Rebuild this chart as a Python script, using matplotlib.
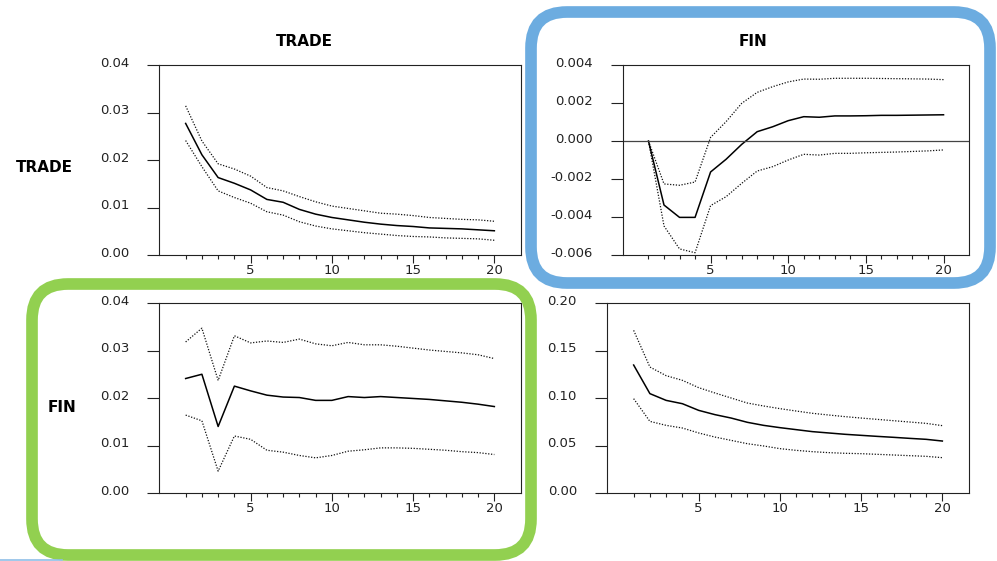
import matplotlib
matplotlib.use('Agg')
import matplotlib.pyplot as plt
from matplotlib.patches import FancyBboxPatch
from matplotlib.lines import Line2D
from matplotlib.ticker import FixedLocator, FormatStrFormatter
from matplotlib.transforms import Affine2D, ScaledTranslation

plt.rcParams['font.family'] = ['DejaVu Sans']
plt.rcParams['axes.unicode_minus'] = False

W, H = 997, 561

horizon = [1, 2, 3, 4, 5, 6, 7, 8, 9, 10, 11, 12, 13, 14, 15, 16, 17, 18, 19, 20]
xMajor = [5, 10, 15, 20]

# TRADE -> TRADE (top left)
tradeTradeMid = [0.0277, 0.0211, 0.0163, 0.0151, 0.0137, 0.0117, 0.0111, 0.0096, 0.0086, 0.0079,
                 0.0074, 0.0069, 0.0065, 0.0062, 0.0060, 0.0057, 0.0056, 0.0055, 0.0053, 0.0051]
tradeTradeUp = [0.0314, 0.0240, 0.0192, 0.0181, 0.0166, 0.0142, 0.0135, 0.0123, 0.0112, 0.0103,
                0.0098, 0.0093, 0.0088, 0.0086, 0.0083, 0.0079, 0.0077, 0.0075, 0.0074, 0.0071]
tradeTradeLow = [0.0241, 0.0186, 0.0135, 0.0121, 0.0109, 0.0091, 0.0084, 0.0070, 0.0061, 0.0055,
                 0.0051, 0.0047, 0.0044, 0.0041, 0.0039, 0.0038, 0.0036, 0.0035, 0.0034, 0.0031]

# TRADE row, FIN column (top right)
tradeFinMid = [0.0, -0.00337, -0.00402, -0.00402, -0.00163, -0.00096, -0.00018, 0.00049, 0.00075, 0.00107,
               0.00128, 0.00125, 0.00132, 0.00132, 0.00133, 0.00135, 0.00135, 0.00136, 0.00137, 0.00138]
tradeFinUp = [0.0, -0.00226, -0.00233, -0.00216, 0.00019, 0.00102, 0.00198, 0.00256, 0.00286, 0.00311,
              0.00326, 0.00325, 0.00330, 0.00330, 0.00330, 0.00329, 0.00328, 0.00327, 0.00326, 0.00323]
tradeFinLow = [0.0, -0.00447, -0.00568, -0.00588, -0.00340, -0.00293, -0.00223, -0.00158, -0.00135, -0.00100,
               -0.00070, -0.00074, -0.00065, -0.00065, -0.00062, -0.00060, -0.00058, -0.00055, -0.00052, -0.00047]

# FIN row, TRADE column (bottom left)
finTradeMid = [0.0241, 0.0250, 0.0140, 0.0225, 0.0215, 0.0206, 0.0202, 0.0201, 0.0195, 0.0195,
               0.0203, 0.0201, 0.0203, 0.0201, 0.0199, 0.0197, 0.0194, 0.0191, 0.0187, 0.0182]
finTradeUp = [0.0318, 0.0347, 0.0237, 0.0331, 0.0316, 0.0320, 0.0317, 0.0324, 0.0314, 0.0310,
              0.0317, 0.0312, 0.0312, 0.0309, 0.0305, 0.0301, 0.0298, 0.0295, 0.0291, 0.0283]
finTradeLow = [0.0164, 0.0152, 0.0046, 0.0120, 0.0113, 0.0090, 0.0086, 0.0079, 0.0074, 0.0079,
               0.0088, 0.0091, 0.0095, 0.0095, 0.0094, 0.0092, 0.0090, 0.0087, 0.0085, 0.0081]

# FIN -> FIN (bottom right)
finFinMid = [0.1347, 0.1046, 0.0975, 0.0940, 0.0870, 0.0825, 0.0789, 0.0744, 0.0712, 0.0688,
             0.0667, 0.0646, 0.0632, 0.0618, 0.0607, 0.0596, 0.0586, 0.0575, 0.0565, 0.0547]
finFinUp = [0.1712, 0.1326, 0.1235, 0.1186, 0.1109, 0.1053, 0.1000, 0.0947, 0.0916, 0.0888,
            0.0863, 0.0839, 0.0821, 0.0804, 0.0789, 0.0775, 0.0761, 0.0747, 0.0733, 0.0709]
finFinLow = [0.0993, 0.0754, 0.0712, 0.0684, 0.0632, 0.0589, 0.0554, 0.0519, 0.0495, 0.0467,
             0.0449, 0.0435, 0.0425, 0.0418, 0.0414, 0.0407, 0.0400, 0.0393, 0.0386, 0.0372]

ticksSmall = [0.00, 0.01, 0.02, 0.03, 0.04]
ticksFin = [-0.006, -0.004, -0.002, 0.000, 0.002, 0.004]
ticksBig = [0.00, 0.05, 0.10, 0.15, 0.20]

fig = plt.figure(figsize=(W / 100, H / 100), dpi=100)

# top-left pixel coordinates -> display coordinates
pixelTransform = Affine2D().scale(1, -1).translate(0, H)


def pixelBox(left, top, right, bottom):
    return [left / W, 1 - bottom / H, (right - left) / W, (bottom - top) / H]


def drawPanel(box, mid, up, low, yTicks, fmt, zeroLine=False):
    ax = fig.add_axes(pixelBox(*box))
    ax.plot(horizon, up, color='#111111', lw=0.9, linestyle=(0, (1, 1.3)))
    ax.plot(horizon, low, color='#111111', lw=0.9, linestyle=(0, (1, 1.3)))
    ax.plot(horizon, mid, color='black', lw=1.1)
    if zeroLine:
        ax.axhline(0, color='#444444', lw=0.9)

    ax.set_xlim(-0.64, 21.64)
    ax.set_ylim(yTicks[0], yTicks[-1])
    ax.yaxis.set_major_locator(FixedLocator(yTicks))
    ax.yaxis.set_major_formatter(FormatStrFormatter(fmt))
    ax.xaxis.set_major_locator(FixedLocator(xMajor))
    ax.xaxis.set_minor_locator(FixedLocator(horizon))

    ax.tick_params(axis='y', direction='out', length=8.6, width=0.8, pad=13.0,
                   labelsize=9.5, colors='#222222')
    ax.tick_params(axis='x', which='major', direction='out', length=5.8, width=0.8,
                   pad=0.5, labelsize=9.5, colors='#222222')
    ax.tick_params(axis='x', which='minor', direction='out', length=2.9, width=0.8,
                   colors='#222222')
    for spine in ax.spines.values():
        spine.set_linewidth(0.8)
        spine.set_color('#222222')

    # y labels sit a little above their ticks in the original
    lift = ScaledTranslation(0, 2.3 / 72, fig.dpi_scale_trans)
    for label in ax.get_yticklabels():
        label.set_transform(label.get_transform() + lift)
    return ax


drawPanel((159, 65, 521, 255), tradeTradeMid, tradeTradeUp, tradeTradeLow, ticksSmall, '%.2f')
drawPanel((623, 65, 969, 255), tradeFinMid, tradeFinUp, tradeFinLow, ticksFin, '%.3f', zeroLine=True)
drawPanel((159, 303, 521, 493), finTradeMid, finTradeUp, finTradeLow, ticksSmall, '%.2f')
drawPanel((607, 303, 969, 493), finFinMid, finFinUp, finFinLow, ticksBig, '%.2f')

# column titles and row labels
fig.text(304 / W, 1 - 41 / H, 'TRADE', ha='center', va='center', fontsize=11, fontweight='bold')
fig.text(753 / W, 1 - 41 / H, 'FIN', ha='center', va='center', fontsize=11, fontweight='bold')
fig.text(44.5 / W, 1 - 168 / H, 'TRADE', ha='center', va='center', fontsize=11, fontweight='bold')
fig.text(62 / W, 1 - 407 / H, 'FIN', ha='center', va='center', fontsize=11, fontweight='bold')

# highlight frames
blueFrame = FancyBboxPatch((531, 12), 459, 271, boxstyle='round,pad=0,rounding_size=36',
                           transform=pixelTransform, fill=False, ec='#6cace0', lw=8.4)
greenFrame = FancyBboxPatch((32, 284), 499, 271, boxstyle='round,pad=0,rounding_size=36',
                            transform=pixelTransform, fill=False, ec='#92d050', lw=8.4)
fig.add_artist(blueFrame)
fig.add_artist(greenFrame)
fig.add_artist(Line2D([0, 62], [560, 560], transform=pixelTransform, color='#8fbfe8', lw=1.2))

fig.savefig('out.png', dpi=100)
